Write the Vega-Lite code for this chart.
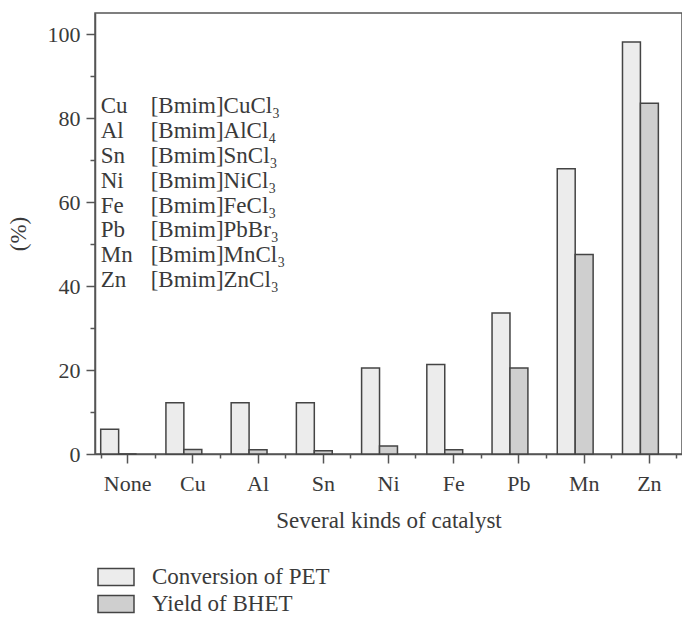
{
  "$schema": "https://vega.github.io/schema/vega-lite/v6.json",
  "width": 587,
  "height": 441,
  "autosize": {"type": "none"},
  "padding": {"left": 95, "top": 13, "right": 0, "bottom": 167},
  "background": "white",
  "config": {
    "font": "Liberation Serif",
    "view": {"stroke": "#555555", "strokeWidth": 1.5},
    "axis": {
      "domainColor": "#555555",
      "domainWidth": 1.5,
      "tickColor": "#555555",
      "tickWidth": 1.5,
      "labelColor": "#3a3a3a",
      "titleColor": "#3a3a3a",
      "labelFont": "Liberation Serif",
      "titleFont": "Liberation Serif",
      "labelFontSize": 22,
      "titleFontSize": 23,
      "titleFontWeight": "normal",
      "grid": false
    },
    "legend": {
      "labelFont": "Liberation Serif",
      "labelFontSize": 23,
      "labelColor": "#3a3a3a",
      "labelLimit": 400
    }
  },
  "datasets": {
    "bars": [
      {"catalyst": "None", "series": "Conversion of PET", "value": 5.9},
      {"catalyst": "None", "series": "Yield of BHET", "value": 0},
      {"catalyst": "Cu", "series": "Conversion of PET", "value": 12.2},
      {"catalyst": "Cu", "series": "Yield of BHET", "value": 1.1},
      {"catalyst": "Al", "series": "Conversion of PET", "value": 12.2},
      {"catalyst": "Al", "series": "Yield of BHET", "value": 1.0},
      {"catalyst": "Sn", "series": "Conversion of PET", "value": 12.2},
      {"catalyst": "Sn", "series": "Yield of BHET", "value": 0.8},
      {"catalyst": "Ni", "series": "Conversion of PET", "value": 20.5},
      {"catalyst": "Ni", "series": "Yield of BHET", "value": 1.9},
      {"catalyst": "Fe", "series": "Conversion of PET", "value": 21.3},
      {"catalyst": "Fe", "series": "Yield of BHET", "value": 1.0},
      {"catalyst": "Pb", "series": "Conversion of PET", "value": 33.6},
      {"catalyst": "Pb", "series": "Yield of BHET", "value": 20.5},
      {"catalyst": "Mn", "series": "Conversion of PET", "value": 67.9},
      {"catalyst": "Mn", "series": "Yield of BHET", "value": 47.5},
      {"catalyst": "Zn", "series": "Conversion of PET", "value": 98.1},
      {"catalyst": "Zn", "series": "Yield of BHET", "value": 83.5}
    ]
  },
  "layer": [
    {
      "data": {"name": "bars"},
      "mark": {"type": "bar", "stroke": "#444444", "strokeWidth": 1.5},
      "encoding": {
        "x": {
          "field": "catalyst",
          "type": "nominal",
          "sort": ["None", "Cu", "Al", "Sn", "Ni", "Fe", "Pb", "Mn", "Zn"],
          "scale": {"paddingInner": 0.175, "paddingOuter": 0.0875},
          "axis": {"orient": "bottom", "labelAngle": 0, "tickSize": 9, "labelPadding": 10, "title": "Several kinds of catalyst", "titlePadding": 15}
        },
        "xOffset": {
          "field": "series",
          "type": "nominal",
          "scale": {"domain": ["Conversion of PET", "Yield of BHET", "pad"], "paddingInner": 0, "paddingOuter": 0}
        },
        "y": {
          "field": "value",
          "type": "quantitative",
          "scale": {"domain": [0, 105], "nice": false},
          "axis": {"orient": "left", "values": [0, 20, 40, 60, 80, 100], "tickSize": 9, "labelPadding": 6, "title": "(%)", "titlePadding": 17}
        },
        "fill": {
          "field": "series",
          "type": "nominal",
          "scale": {"domain": ["Conversion of PET", "Yield of BHET"], "range": ["#ececec", "#cfcfcf"]},
          "legend": {
            "title": null,
            "orient": "none",
            "legendX": 6.5,
            "legendY": 549.5,
            "direction": "vertical",
            "symbolType": "M-1.333,-0.63H1.333V0.63H-1.333Z",
            "symbolSize": 729,
            "symbolStrokeColor": "#444444",
            "symbolStrokeWidth": 1.5,
            "labelOffset": 21.5,
            "rowPadding": 0
          }
        }
      }
    },
    {
      "data": {"name": "bars"},
      "mark": {"type": "point", "opacity": 0},
      "encoding": {
        "x": {
          "field": "catalyst",
          "type": "nominal",
          "sort": ["None", "Cu", "Al", "Sn", "Ni", "Fe", "Pb", "Mn", "Zn"],
          "axis": {"orient": "bottom", "tickBand": "extent", "labels": false, "domain": false, "tickSize": 4, "title": null}
        },
        "y": {
          "field": "value",
          "type": "quantitative",
          "axis": {"orient": "left", "values": [10, 30, 50, 70, 90], "labels": false, "domain": false, "tickSize": 5, "title": null}
        }
      }
    },
    {
      "data": {"values": [{}]},
      "mark": {
        "type": "text",
        "text": ["Cu", "Al", "Sn", "Ni", "Fe", "Pb", "Mn", "Zn"],
        "lineHeight": 24.8,
        "align": "left",
        "baseline": "alphabetic",
        "fontSize": 23,
        "font": "Liberation Serif",
        "color": "#3a3a3a"
      },
      "encoding": {
        "x": {"datum": "None", "type": "nominal", "bandPosition": 0, "axis": null},
        "y": {"datum": 81.1, "type": "quantitative", "axis": null}
      }
    },
    {
      "data": {"values": [{}]},
      "mark": {
        "type": "text",
        "text": ["[Bmim]CuCl₃", "[Bmim]AlCl₄", "[Bmim]SnCl₃", "[Bmim]NiCl₃", "[Bmim]FeCl₃", "[Bmim]PbBr₃", "[Bmim]MnCl₃", "[Bmim]ZnCl₃"],
        "lineHeight": 24.8,
        "align": "left",
        "baseline": "alphabetic",
        "fontSize": 23,
        "font": "Liberation Serif",
        "color": "#3a3a3a",
        "dx": 50
      },
      "encoding": {
        "x": {"datum": "None", "type": "nominal", "bandPosition": 0, "axis": null},
        "y": {"datum": 81.1, "type": "quantitative", "axis": null}
      }
    }
  ],
  "resolve": {"axis": {"x": "independent", "y": "independent"}}
}
